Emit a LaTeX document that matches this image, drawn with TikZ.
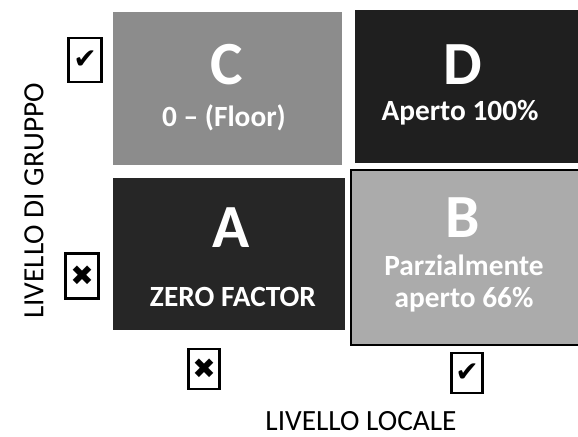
\documentclass[tikz,border=0pt]{standalone}
\usepackage{fontspec}
\setmainfont{Carlito}
\newfontfamily\symfont{DejaVu Sans}
\usepackage{tikz}
\tikzstyle{quad}=[rectangle, draw=none, inner sep=0pt]
\tikzstyle{letter}=[text=white, font=\fontsize{46}{46}\selectfont\bfseries]
\tikzstyle{caption}=[text=white, font=\fontsize{22}{24}\selectfont\bfseries, align=center]
\tikzstyle{tick}=[rectangle, draw=black, line width=2.2pt, minimum width=23pt, minimum height=30pt, inner sep=0pt, font=\symfont\fontsize{21}{21}\selectfont]
\tikzstyle{axis}=[font=\fontsize{22}{22}\selectfont, inner sep=0pt]

\begin{document}
\begin{tikzpicture}[x=0.75pt, y=-0.75pt]
\useasboundingbox (0,0) rectangle (578,436);
% the four quadrants
\node [quad, fill=black!45, minimum width=171.75pt, minimum height=114.75pt] (boxC) at (227.5,88.5) {};
\node [quad, fill=black!88, minimum width=167.25pt, minimum height=114.75pt] (boxD) at (466.5,86.5) {};
\node [quad, fill=black!85, minimum width=174pt, minimum height=114pt] (boxA) at (229,254) {};
\node [quad, fill=black!33, draw=black, line width=2.2pt, minimum width=171.75pt, minimum height=131.25pt] (boxB) at (465.5,257.5) {};

\node [letter] (letC) at (227,65) {C};
\node [caption] (labC) at (224,118) {0 – (Floor)};
\node [letter] (letD) at (463,65) {D};
\node [caption] (labD) at (460,113) {Aperto 100\%};
\node [letter] (letA) at (231,228) {A};
\node [caption] (labA) at (233,297) {ZERO FACTOR};
\node [letter] (letB) at (463,218) {B};
\node [caption] (labB) at (464,284) {Parzialmente\\aperto 66\%};

% check boxes
\node [tick, minimum width=25pt, minimum height=33pt] (yesG) at (85,60) {✔};
\node [tick, minimum width=25pt, minimum height=34pt] (noG) at (82,276) {✖};
\node [tick] (noL) at (204,369) {✖};
\node [tick] (yesL) at (467,373) {✔};

\node [axis, rotate=90] (gruppo) at (34,201) {LIVELLO DI GRUPPO};
\node [axis, anchor=base] (locale) at (361,430) {LIVELLO LOCALE};

\end{tikzpicture}
\end{document}
